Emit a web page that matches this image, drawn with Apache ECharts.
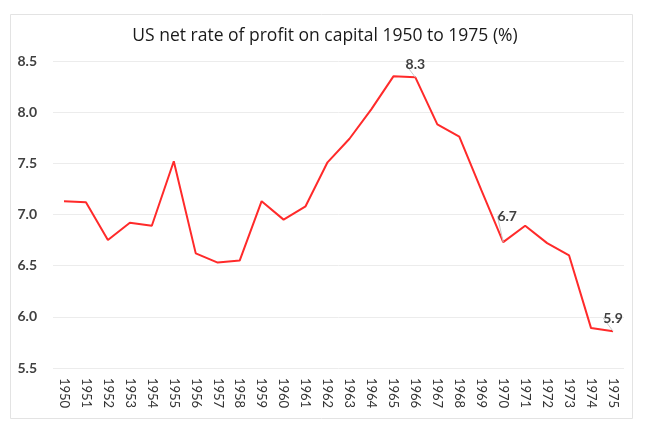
<!DOCTYPE html>
<html>
<head>
<meta charset="utf-8">
<script src="https://cdn.jsdelivr.net/npm/echarts@6/dist/echarts.min.js"></script>
<style>
  html, body { margin: 0; padding: 0; background: #fff; }
  #chart { width: 650px; height: 430px; }
</style>
</head>
<body>
<div id="chart"></div>
<script>
// years on the x axis
var years = ['1950', '1951', '1952', '1953', '1954', '1955', '1956', '1957', '1958',
  '1959', '1960', '1961', '1962', '1963', '1964', '1965', '1966', '1967', '1968',
  '1969', '1970', '1971', '1972', '1973', '1974', '1975'];

// net rate of profit (%)
var profitRate = [7.13, 7.12, 6.75, 6.92, 6.89, 7.52, 6.62, 6.53, 6.55,
  7.13, 6.95, 7.08, 7.51, 7.74, 8.03, 8.35, 8.34, 7.88, 7.76,
  7.24, 6.73, 6.89, 6.72, 6.6, 5.89, 5.86];

// which points carry a value label
var labelledYears = ['1966', '1970', '1975'];

var titleText = 'US net rate of profit on capital 1950 to 1975 (%)';

var font = 'Lato, "Open Sans", sans-serif';

var chart = echarts.init(document.getElementById('chart'), null, { renderer: 'canvas' });

var seriesData = profitRate.map(function (v, i) {
  var item = { value: v };
  if (labelledYears.indexOf(years[i]) >= 0) {
    item.label = { show: true };
  }
  return item;
});

var option = {
  backgroundColor: '#fff',
  animation: false,
  title: {
    text: titleText,
    left: 'center',
    top: 22,
    textStyle: { fontFamily: '"Open Sans", sans-serif', fontSize: 17.5, fontWeight: 'normal', color: '#1a1a1a' }
  },
  graphic: [{
    type: 'rect',
    shape: { x: 10.5, y: 14.5, width: 622, height: 404 },
    style: { fill: 'none', stroke: '#e3e3e3', lineWidth: 1 },
    silent: true
  }],
  grid: { left: 53, right: 26, top: 61, bottom: 62 },
  xAxis: {
    type: 'category',
    data: years,
    boundaryGap: true,
    axisLine: { show: false },
    axisTick: { show: false },
    axisLabel: {
      rotate: -90,
      interval: 0,
      margin: 10,
      color: '#333',
      fontFamily: font,
      fontSize: 13
    }
  },
  yAxis: {
    type: 'value',
    min: 5.5,
    max: 8.5,
    interval: 0.5,
    axisLine: { show: false },
    axisTick: { show: false },
    splitLine: { lineStyle: { color: '#ececec', width: 1 } },
    axisLabel: {
      margin: 16,
      color: '#404040',
      fontFamily: font,
      fontSize: 14,
      fontWeight: 'bold',
      formatter: function (v) { return v.toFixed(1); }
    }
  },
  series: [{
    type: 'line',
    data: seriesData,
    symbol: 'circle',
    symbolSize: 0,
    lineStyle: { color: '#ff2a2a', width: 2 },
    itemStyle: { color: '#ff2a2a' },
    label: {
      show: false,
      position: 'top',
      distance: 6,
      color: '#404040',
      fontFamily: font,
      fontSize: 14,
      fontWeight: 'bold',
      formatter: function (p) { return p.value.toFixed(1); }
    },
    labelLine: { show: true, lineStyle: { color: '#c8c8c8', width: 1 } },
    labelLayout: function (p) {
      // the 1970 label sits up and to the right, with a small leader line
      if (years[p.dataIndex] === '1970') {
        return { dx: 4, dy: -13 };
      }
      return {};
    }
  }]
};

chart.setOption(option);
</script>
</body>
</html>
